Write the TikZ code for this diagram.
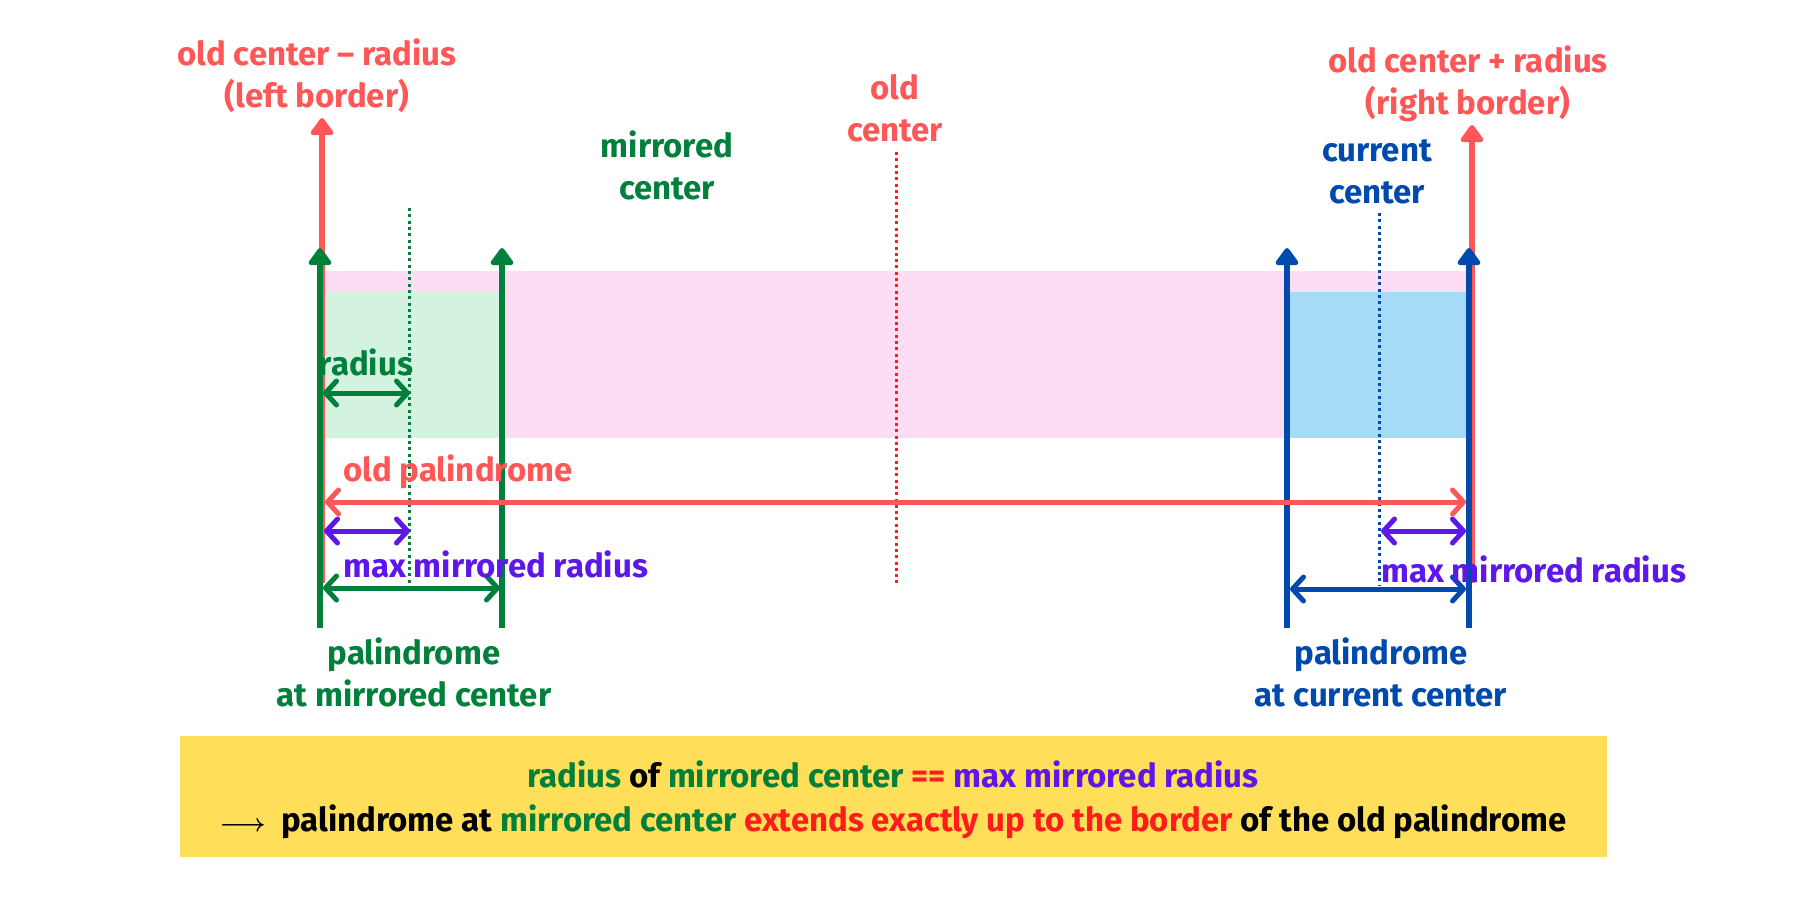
\documentclass[tikz,border=0pt]{standalone}
\usepackage{fontspec}
\setmainfont{Fira Sans}
\usetikzlibrary{arrows.meta}
\definecolor{cred}{HTML}{FF5757}
\definecolor{cgreen}{HTML}{00803A}
\definecolor{cblue}{HTML}{004AAD}
\definecolor{cpurple}{HTML}{5E17EB}
\definecolor{cpink}{HTML}{FDDDF3}
\definecolor{clgreen}{HTML}{D3F3E0}
\definecolor{clblue}{HTML}{A6DBF8}
\definecolor{cyellow}{HTML}{FFDE59}
\definecolor{cbred}{HTML}{FF1C1C}
\begin{document}
\begin{tikzpicture}[x=1pt,y=-1pt,
  lbl/.style={font=\fontsize{33}{42}\selectfont\bfseries, align=center, inner sep=0pt},
  vline/.style={line width=6pt, -{Triangle[length=19pt,width=26pt,round]}},
  harrow/.style={line width=5pt, {Straight Barb[round,length=11pt,width=24pt]}-{Straight Barb[round,length=11pt,width=24pt]}},
  dotline/.style={line width=3pt, dash pattern=on 3pt off 3.3pt}]
\useasboundingbox (0,0) rectangle (1800,900);
\fill[white] (0,0) rectangle (1800,900);
% background bands
\fill[cpink] (323,271) rectangle (1470,438);
\fill[clgreen] (323,292) rectangle (502,438);
\fill[clblue] (1289,292) rectangle (1467,438);
% coordinates
\coordinate (lrb) at (322,583); \coordinate (lrt) at (322,118);
\coordinate (rrb) at (1472,583); \coordinate (rrt) at (1472,125);
\coordinate (g1b) at (320,628); \coordinate (g1t) at (320,248);
\coordinate (g2b) at (502,628); \coordinate (g2t) at (502,248);
\coordinate (b1b) at (1287,628); \coordinate (b1t) at (1287,248);
\coordinate (b2b) at (1469,628); \coordinate (b2t) at (1469,248);
\coordinate (mct) at (409,208); \coordinate (mcb) at (409,586);
\coordinate (oct) at (896,152); \coordinate (ocb) at (896,586);
\coordinate (cct) at (1379,213); \coordinate (ccb) at (1379,586);
% dotted centers
\draw[dotline, cgreen] (mct) -- (mcb);
\draw[dotline, cbred] (oct) -- (ocb);
\draw[dotline, cblue] (cct) -- (ccb);
% verticals
\draw[vline, cred] (lrb) -- (lrt);
\draw[vline, cred] (rrb) -- (rrt);
\draw[vline, cgreen] (g1b) -- (g1t);
\draw[vline, cgreen] (g2b) -- (g2t);
\draw[vline, cblue] (b1b) -- (b1t);
\draw[vline, cblue] (b2b) -- (b2t);
% horizontal arrows
\coordinate (ra1) at (323,393); \coordinate (ra2) at (410,393);
\coordinate (op1) at (325,502); \coordinate (op2) at (1466,502);
\coordinate (ml1) at (324,531); \coordinate (ml2) at (410,531);
\coordinate (mr1) at (1381,531); \coordinate (mr2) at (1466,531);
\coordinate (gb1) at (323,588); \coordinate (gb2) at (500,588);
\coordinate (bb1) at (1290,589); \coordinate (bb2) at (1466,589);
\draw[harrow, cgreen] (ra1) -- (ra2);
\draw[harrow, cred] (op1) -- (op2);
\draw[harrow, cpurple] (ml1) -- (ml2);
\draw[harrow, cpurple] (mr1) -- (mr2);
\draw[harrow, cgreen] (gb1) -- (gb2);
\draw[harrow, cblue] (bb1) -- (bb2);
% labels
\node[lbl, text=cred] (tl) at (317,76) {old center – radius\\(left border)};
\node[lbl, text=cred] (tr) at (1468,84) {old center + radius\\(right border)};
\node[lbl, text=cred] (oc) at (895,108) {old\\center};
\node[lbl, text=cgreen] (mc) at (667,165) {mirrored\\center};
\node[lbl, text=cblue] (cc) at (1377,172) {current\\center};
\node[lbl, text=cgreen] (rad) at (366,362) {radius};
\node[lbl, text=cred, anchor=west] (opl) at (343,472) {old palindrome};
\node[lbl, text=cpurple, anchor=west] (mml) at (343,564) {max mirrored radius};
\node[lbl, text=cpurple, anchor=west] (mmr) at (1381,569) {max mirrored radius};
\node[lbl, text=cgreen] (pmc) at (414,672) {palindrome\\at mirrored center};
\node[lbl, text=cblue] (pcc) at (1381,672) {palindrome\\at current center};
% box
\node[fill=cyellow, minimum width=1427pt, minimum height=121pt, inner sep=0pt] (box) at (893.5,796) {};
\node[lbl, font=\fontsize{33}{44}\selectfont\bfseries] (boxtext) at (893,800) {%
\textcolor{cgreen}{radius} of \textcolor{cgreen}{mirrored center} \textcolor{cbred}{==} \textcolor{cpurple}{max mirrored radius}\\
{\fontsize{36}{44}\selectfont\boldmath$\longrightarrow$}\ \ palindrome at \textcolor{cgreen}{mirrored center} \textcolor{cbred}{extends exactly up to the border} of the old palindrome};
\end{tikzpicture}
\end{document}
